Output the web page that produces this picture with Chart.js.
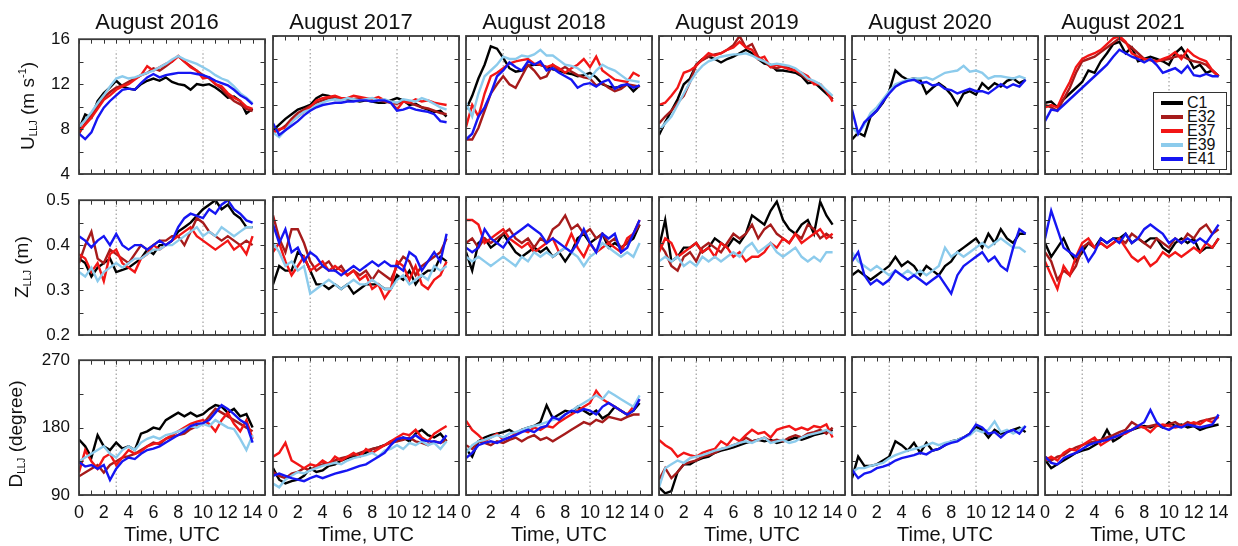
<!DOCTYPE html>
<html>
<head>
<meta charset="utf-8">
<script src="https://cdn.jsdelivr.net/npm/chart.js@4.4.1/dist/chart.umd.min.js"></script>
<style>
  html, body { margin: 0; padding: 0; background: #ffffff; }
  #fig { position: relative; width: 1238px; height: 546px; overflow: hidden;
         font-family: "Liberation Sans", Arial, Helvetica, sans-serif; color: #111; }
  #fig canvas { position: absolute; }
  .title { position: absolute; font-size: 22px; line-height: 22px; white-space: nowrap; transform: translateX(-50%); }
  .xlab  { position: absolute; font-size: 20px; line-height: 20px; white-space: nowrap; transform: translateX(-50%); }
  .ylab  { position: absolute; font-size: 19px; line-height: 19px; white-space: nowrap;
           transform: translate(-50%, -50%) rotate(-90deg); }
  .ylab sub { font-size: 10px; vertical-align: -3px; }
  .ylab sup { font-size: 11px; vertical-align: 8px; }
  #legend { position: absolute; left: 1153px; top: 92px; width: 72px; height: 73px;
            border: 1.5px solid #333; background: #fff; z-index: 10; padding-top: 2.5px; box-sizing: content-box; }
  #legend .row { height: 14px; line-height: 14px; font-size: 16px; position: relative; white-space: nowrap; }
  #legend .sw { position: absolute; left: 7px; top: 5.5px; width: 22px; height: 3.5px; }
  #legend .tx { position: absolute; left: 33px; top: 0; }
</style>
</head>
<body>
<div id="fig"></div>
<script>
// Hours after 00 UTC at which every series is sampled
const hours = [0,0.5,1,1.5,2,2.5,3,3.5,4,4.5,5,5.5,6,6.5,7,7.5,8,8.5,9,9.5,10,10.5,11,11.5,12,12.5,13,13.5,14];

const years = ['2016','2017','2018','2019','2020','2021'];
const stations = ['C1','E32','E37','E39','E41'];
const stationColors = ['#000000','#a61b1b','#f21616','#8ccbec','#1616f2'];

// ---- LLJ core speed (m s-1) ----
const U_2016_C1  = [8.0,9.3,9.0,10.5,11.2,11.7,12.3,11.8,11.6,11.5,12.0,12.3,12.5,12.3,12.6,12.2,12.0,11.9,11.5,12.0,11.9,12.0,11.7,11.3,10.8,10.9,10.5,9.4,9.8];
const U_2016_E32 = [7.6,8.5,9.2,10.0,10.8,11.3,11.7,11.9,12.2,12.5,12.8,13.0,13.4,13.2,13.6,14.0,14.5,14.0,13.6,13.2,12.8,12.5,12.0,11.6,11.0,10.5,10.2,9.8,9.6];
const U_2016_E37 = [7.8,8.4,9.0,9.8,10.6,11.0,11.5,11.8,12.0,12.4,12.8,13.6,13.2,13.5,13.8,14.0,14.5,14.0,13.5,13.2,12.5,12.6,12.0,11.8,11.2,10.8,10.5,10.0,9.8];
const U_2016_E39 = [8.2,8.8,9.5,10.3,11.0,11.8,12.5,12.7,12.5,12.6,12.8,13.0,13.2,13.5,13.8,14.2,14.5,14.2,14.0,13.8,13.5,13.2,12.8,12.5,12.3,11.8,11.2,10.8,10.3];
const U_2016_E41 = [7.6,7.1,7.7,9.0,9.9,10.5,11.0,11.5,11.6,11.5,12.1,12.6,12.9,12.6,12.8,12.9,13.0,13.0,13.0,12.9,12.8,12.6,12.3,12.1,11.9,11.5,11.0,10.7,10.2];

const U_2017_C1  = [7.8,8.3,8.8,9.2,9.6,9.8,10.0,10.6,10.9,10.8,10.5,10.6,10.5,10.4,10.3,10.4,10.3,10.2,10.2,10.4,10.6,10.4,10.0,10.1,9.8,9.6,9.4,9.5,9.0];
const U_2017_E32 = [7.7,7.8,8.2,8.8,9.3,9.6,9.9,10.2,10.4,10.6,10.7,10.5,10.6,10.5,10.6,10.4,10.5,10.4,10.3,10.2,10.1,10.3,10.2,10.0,9.8,9.7,9.5,9.3,9.2];
const U_2017_E37 = [7.6,7.9,8.0,8.6,9.0,9.4,9.8,10.4,10.6,10.7,10.8,10.6,10.6,10.8,10.7,10.6,10.5,10.7,10.4,10.3,9.6,10.3,10.2,10.5,10.3,10.4,10.2,10.1,10.0];
const U_2017_E39 = [7.6,7.2,7.8,8.5,9.0,9.4,9.6,10.0,10.2,10.4,10.5,10.4,10.6,10.5,10.4,10.5,10.6,10.4,10.5,10.3,10.2,10.5,10.4,10.3,10.6,10.4,10.1,9.8,9.6];
const U_2017_E41 = [8.4,7.4,7.8,8.2,8.6,9.1,9.5,9.8,10.0,10.1,10.2,10.2,10.3,10.3,10.4,10.4,10.3,10.4,10.4,10.2,9.5,9.6,9.8,9.6,9.5,9.4,9.2,8.6,8.5];

const U_2018_C1  = [9.6,10.8,12.3,13.5,15.1,14.9,14.1,13.2,12.9,13.0,13.4,13.5,13.5,13.3,13.1,13.0,12.8,12.7,12.5,12.6,12.8,12.4,11.8,11.6,11.5,11.6,11.8,11.2,11.7];
const U_2018_E32 = [7.0,7.0,8.0,9.5,11.0,11.8,12.5,11.8,11.5,12.5,13.5,13.0,12.3,12.5,13.5,13.0,13.3,12.9,12.6,12.4,12.3,11.7,11.9,11.5,11.2,11.4,11.8,11.7,11.6];
const U_2018_E37 = [8.1,10.0,9.0,11.0,12.5,12.8,13.2,13.6,13.8,13.9,14.0,13.6,13.5,13.3,13.5,13.2,12.8,13.2,13.5,14.0,13.3,14.2,13.0,12.6,12.2,12.1,12.0,12.8,12.5];
const U_2018_E39 = [10.2,9.0,11.0,12.5,13.0,13.5,14.2,14.0,14.0,14.3,14.2,14.4,14.8,14.3,14.3,13.9,13.5,13.4,13.2,12.8,12.3,13.0,13.5,13.2,13.0,12.6,12.2,12.1,12.0];
const U_2018_E41 = [7.0,7.5,9.0,9.8,11.0,12.5,13.0,13.7,13.3,13.0,13.8,13.5,13.8,13.0,13.2,12.8,12.5,12.2,11.5,11.8,11.9,11.6,12.0,12.2,11.4,11.7,11.8,11.5,11.7];

const U_2019_C1  = [7.4,8.5,9.5,10.5,11.8,12.3,13.5,14.0,14.2,14.0,13.7,14.0,14.2,14.5,14.8,14.5,14.0,13.6,13.5,13.0,13.0,12.9,12.8,12.5,11.9,12.0,11.5,11.0,10.5];
const U_2019_E32 = [8.4,9.0,9.5,10.2,10.8,12.0,13.5,13.9,14.2,14.4,14.5,14.8,15.2,16.0,15.0,15.3,14.2,13.8,13.3,13.2,13.4,13.2,13.0,12.6,12.2,12.0,11.8,11.2,10.5];
const U_2019_E37 = [10.0,10.2,10.8,11.5,12.8,13.0,13.4,14.0,14.5,14.3,14.5,14.8,15.0,15.5,15.0,14.8,14.0,14.2,13.3,13.5,13.3,13.1,13.0,12.8,12.5,11.8,11.8,11.2,10.3];
const U_2019_E39 = [7.8,8.4,9.0,10.0,11.0,12.0,12.8,13.4,13.8,14.0,14.2,14.3,14.4,14.4,14.5,14.3,14.0,13.8,13.5,13.6,13.5,13.4,13.2,12.8,12.3,12.1,11.8,11.3,10.8];

const U_2020_C1  = [7.0,7.6,7.3,9.0,9.5,10.2,11.2,13.0,12.5,12.2,12.3,12.2,11.0,11.5,11.9,11.5,10.9,10.0,11.0,11.2,10.9,11.9,11.4,11.9,11.6,12.1,12.3,11.9,12.2];
const U_2020_E39 = [8.1,7.5,8.3,9.3,9.8,10.5,11.2,11.8,12.0,12.2,12.3,12.3,12.4,12.2,12.5,12.8,12.9,13.0,13.4,12.9,13.0,12.8,12.3,12.5,12.5,12.4,12.3,12.5,12.3];
const U_2020_E41 = [9.6,7.5,8.5,9.0,9.5,10.3,11.0,11.6,11.9,12.1,12.2,11.9,12.0,11.7,11.8,11.4,11.3,11.0,11.2,11.4,11.2,11.2,11.0,11.4,11.8,11.5,11.8,11.6,12.2];

const U_2021_C1  = [10.2,10.3,9.8,10.5,11.0,11.5,12.0,13.0,12.8,13.8,14.5,15.3,15.5,14.5,15.0,13.8,14.0,14.2,14.0,13.8,13.5,14.5,15.0,14.2,13.2,13.5,12.8,13.0,12.5];
const U_2021_E32 = [10.0,9.8,9.5,10.5,11.5,12.8,13.8,14.0,14.2,14.6,15.0,15.4,15.8,15.4,15.0,14.5,14.0,13.9,13.8,13.9,14.0,14.2,14.3,14.0,13.8,13.7,13.5,13.0,12.5];
const U_2021_E37 = [9.8,10.0,9.8,11.0,12.0,13.3,14.0,14.3,14.5,14.8,15.3,15.8,16.0,15.5,14.5,14.2,14.0,13.9,13.8,14.0,14.2,14.6,14.0,14.8,14.3,14.0,13.8,13.0,12.5];
const U_2021_E41 = [8.6,9.6,9.5,10.0,10.5,11.0,11.5,12.0,12.5,13.0,13.5,14.2,14.8,14.5,14.2,14.0,13.7,14.0,13.5,12.8,13.0,13.2,12.8,13.4,12.6,12.5,12.7,12.5,12.5];

// ---- LLJ core height (m) ----
const Z_2016_C1  = [0.37,0.36,0.33,0.35,0.36,0.37,0.34,0.345,0.35,0.36,0.37,0.39,0.38,0.40,0.40,0.41,0.43,0.44,0.45,0.465,0.48,0.49,0.50,0.48,0.49,0.47,0.46,0.44,0.44];
const Z_2016_E32 = [0.36,0.40,0.43,0.37,0.36,0.39,0.38,0.37,0.36,0.38,0.40,0.39,0.40,0.41,0.41,0.42,0.42,0.40,0.43,0.46,0.45,0.43,0.42,0.41,0.42,0.41,0.40,0.41,0.40];
const Z_2016_E37 = [0.38,0.37,0.34,0.36,0.32,0.38,0.39,0.36,0.35,0.34,0.37,0.38,0.40,0.39,0.40,0.41,0.42,0.43,0.44,0.42,0.41,0.40,0.39,0.40,0.41,0.39,0.40,0.38,0.42];
const Z_2016_E39 = [0.34,0.33,0.35,0.32,0.34,0.35,0.36,0.35,0.36,0.37,0.37,0.38,0.39,0.39,0.40,0.40,0.41,0.42,0.43,0.44,0.42,0.43,0.42,0.44,0.43,0.42,0.43,0.44,0.44];
const Z_2016_E41 = [0.42,0.41,0.395,0.41,0.42,0.40,0.425,0.40,0.39,0.40,0.40,0.39,0.40,0.41,0.40,0.41,0.44,0.46,0.47,0.465,0.46,0.48,0.47,0.49,0.50,0.48,0.47,0.455,0.45];

const Z_2017_C1  = [0.31,0.35,0.34,0.34,0.38,0.37,0.34,0.31,0.31,0.30,0.31,0.30,0.31,0.29,0.30,0.31,0.31,0.31,0.30,0.30,0.33,0.32,0.34,0.31,0.33,0.34,0.34,0.37,0.36];
const Z_2017_E32 = [0.46,0.41,0.38,0.43,0.43,0.40,0.36,0.34,0.35,0.36,0.34,0.35,0.33,0.34,0.33,0.34,0.32,0.34,0.33,0.32,0.35,0.37,0.36,0.33,0.35,0.36,0.37,0.38,0.41];
const Z_2017_E37 = [0.38,0.40,0.36,0.33,0.35,0.37,0.34,0.35,0.36,0.34,0.35,0.34,0.33,0.34,0.32,0.33,0.30,0.31,0.28,0.30,0.36,0.35,0.32,0.35,0.31,0.30,0.32,0.33,0.36];
const Z_2017_E39 = [0.40,0.38,0.35,0.36,0.34,0.35,0.29,0.30,0.31,0.32,0.31,0.30,0.31,0.32,0.31,0.31,0.32,0.31,0.30,0.30,0.32,0.33,0.31,0.32,0.33,0.32,0.35,0.34,0.35];
const Z_2017_E41 = [0.44,0.40,0.43,0.38,0.39,0.36,0.38,0.37,0.35,0.34,0.34,0.33,0.34,0.35,0.34,0.35,0.36,0.35,0.36,0.35,0.35,0.34,0.38,0.37,0.34,0.36,0.38,0.36,0.42];

const Z_2018_C1  = [0.38,0.34,0.40,0.41,0.39,0.40,0.42,0.40,0.38,0.37,0.38,0.39,0.38,0.39,0.37,0.38,0.36,0.38,0.41,0.42,0.40,0.41,0.42,0.39,0.40,0.39,0.40,0.41,0.44];
const Z_2018_E32 = [0.40,0.41,0.39,0.41,0.40,0.41,0.42,0.43,0.41,0.40,0.41,0.39,0.41,0.40,0.43,0.44,0.46,0.43,0.44,0.42,0.43,0.41,0.42,0.40,0.41,0.39,0.40,0.42,0.44];
const Z_2018_E37 = [0.45,0.45,0.44,0.40,0.41,0.42,0.43,0.41,0.40,0.39,0.40,0.38,0.39,0.40,0.41,0.38,0.39,0.42,0.39,0.37,0.40,0.38,0.39,0.40,0.39,0.38,0.41,0.42,0.45];
const Z_2018_E39 = [0.37,0.36,0.37,0.36,0.35,0.36,0.37,0.36,0.35,0.37,0.36,0.38,0.37,0.38,0.37,0.38,0.39,0.38,0.37,0.35,0.37,0.38,0.40,0.39,0.38,0.37,0.38,0.37,0.40];
const Z_2018_E41 = [0.39,0.38,0.39,0.43,0.41,0.40,0.39,0.41,0.42,0.43,0.44,0.43,0.42,0.40,0.41,0.40,0.39,0.38,0.40,0.43,0.40,0.38,0.42,0.41,0.42,0.38,0.39,0.42,0.45];

const Z_2019_C1  = [0.39,0.45,0.36,0.37,0.39,0.39,0.40,0.38,0.39,0.41,0.40,0.39,0.41,0.40,0.42,0.46,0.45,0.44,0.47,0.49,0.45,0.43,0.42,0.44,0.45,0.42,0.49,0.46,0.44];
const Z_2019_E32 = [0.40,0.38,0.35,0.34,0.37,0.38,0.36,0.39,0.40,0.39,0.38,0.40,0.42,0.41,0.42,0.44,0.41,0.43,0.44,0.42,0.41,0.40,0.42,0.41,0.44,0.43,0.41,0.42,0.41];
const Z_2019_E37 = [0.38,0.41,0.40,0.37,0.38,0.39,0.40,0.38,0.39,0.37,0.40,0.39,0.37,0.38,0.36,0.37,0.37,0.38,0.40,0.39,0.41,0.40,0.42,0.40,0.41,0.42,0.43,0.41,0.42];
const Z_2019_E39 = [0.36,0.37,0.36,0.37,0.35,0.36,0.35,0.37,0.36,0.37,0.36,0.37,0.38,0.37,0.39,0.40,0.38,0.39,0.40,0.38,0.37,0.38,0.39,0.37,0.36,0.37,0.36,0.38,0.38];

const Z_2020_C1  = [0.33,0.34,0.33,0.32,0.33,0.34,0.35,0.37,0.35,0.36,0.35,0.33,0.35,0.34,0.33,0.35,0.36,0.38,0.39,0.40,0.41,0.39,0.42,0.40,0.43,0.41,0.40,0.42,0.42];
const Z_2020_E39 = [0.38,0.36,0.35,0.34,0.35,0.34,0.33,0.34,0.33,0.34,0.33,0.34,0.33,0.34,0.35,0.39,0.37,0.38,0.37,0.38,0.39,0.40,0.39,0.40,0.41,0.40,0.39,0.39,0.38];
const Z_2020_E41 = [0.36,0.38,0.33,0.31,0.32,0.31,0.32,0.34,0.33,0.32,0.33,0.32,0.31,0.32,0.33,0.31,0.29,0.33,0.35,0.36,0.37,0.38,0.36,0.37,0.35,0.34,0.39,0.43,0.42];

const Z_2021_C1  = [0.40,0.37,0.39,0.41,0.38,0.36,0.38,0.40,0.39,0.41,0.40,0.41,0.41,0.42,0.40,0.41,0.40,0.41,0.41,0.39,0.38,0.40,0.41,0.40,0.41,0.38,0.39,0.39,0.41];
const Z_2021_E32 = [0.38,0.36,0.32,0.34,0.33,0.35,0.39,0.40,0.39,0.40,0.39,0.40,0.41,0.40,0.42,0.41,0.40,0.39,0.41,0.40,0.39,0.41,0.40,0.42,0.41,0.43,0.44,0.42,0.43];
const Z_2021_E37 = [0.36,0.33,0.30,0.35,0.33,0.37,0.40,0.41,0.39,0.40,0.39,0.40,0.41,0.39,0.37,0.36,0.37,0.35,0.36,0.38,0.37,0.38,0.37,0.38,0.39,0.38,0.40,0.39,0.41];
const Z_2021_E41 = [0.41,0.47,0.43,0.39,0.38,0.37,0.39,0.36,0.38,0.41,0.40,0.41,0.40,0.42,0.40,0.41,0.43,0.44,0.43,0.42,0.40,0.41,0.40,0.41,0.40,0.41,0.40,0.42,0.44];

// ---- LLJ wind direction (degree) ----
const D_2016_C1  = [164,155,140,170,155,150,160,152,155,150,172,175,180,178,190,195,200,195,200,195,198,205,210,208,200,205,195,198,180];
const D_2016_E32 = [115,120,125,130,120,130,135,140,142,145,150,155,160,158,165,168,170,172,178,182,185,195,205,200,195,190,185,180,175];
const D_2016_E37 = [120,150,135,125,140,145,130,140,150,145,148,155,158,160,165,170,175,180,185,188,190,185,175,190,200,185,175,190,165];
const D_2016_E39 = [135,140,145,150,155,145,140,150,155,150,160,165,168,165,170,172,175,178,182,180,185,182,190,185,180,178,165,150,170];
const D_2016_E41 = [134,128,130,125,130,110,125,135,140,138,145,150,152,155,160,165,170,175,182,185,186,190,200,210,205,198,190,185,160];

const D_2017_C1  = [125,110,105,108,110,115,125,120,122,128,130,135,138,140,142,145,150,152,155,160,162,165,160,170,175,168,165,170,160];
const D_2017_E32 = [120,115,112,118,120,125,122,128,130,132,135,138,140,142,145,148,150,152,155,158,160,162,165,160,158,155,160,158,162];
const D_2017_E37 = [140,145,158,135,130,125,130,128,135,130,140,135,140,145,140,150,145,150,155,160,165,170,168,175,165,160,170,175,180];
const D_2017_E39 = [105,100,110,115,120,118,122,125,128,130,132,130,135,138,140,142,145,140,148,150,155,150,158,155,160,155,158,150,160];
const D_2017_E41 = [115,118,115,112,110,108,112,115,112,115,118,120,122,125,128,130,135,140,145,155,163,165,163,168,162,160,160,158,168];

const D_2018_C1  = [150,140,160,165,168,170,172,175,170,175,178,180,185,207,190,195,200,198,205,200,195,200,190,195,205,200,195,200,210];
const D_2018_E32 = [155,150,160,158,155,160,158,162,165,160,165,168,162,165,160,165,170,175,180,185,182,188,185,192,190,188,192,195,195];
const D_2018_E37 = [187,175,168,160,165,170,162,165,170,175,172,178,175,180,178,185,190,195,200,205,210,226,215,210,205,200,195,205,215];
const D_2018_E39 = [145,155,160,162,165,168,165,170,172,175,178,180,182,185,188,190,195,200,205,210,215,220,215,225,220,215,210,205,220];
const D_2018_E41 = [138,145,155,158,160,158,162,165,168,172,175,172,178,180,192,188,195,200,198,202,200,195,205,210,205,200,195,200,215];

const D_2019_C1  = [100,92,95,120,130,130,135,138,140,145,148,150,152,155,158,160,162,160,162,158,160,162,165,162,165,168,170,172,175];
const D_2019_E32 = [110,125,112,120,130,133,135,140,142,145,150,152,155,158,165,160,162,165,160,162,160,165,168,165,170,172,175,170,178];
const D_2019_E37 = [162,155,150,140,145,142,140,145,148,150,160,155,165,160,168,175,170,172,165,175,178,180,175,178,175,180,178,182,165];
const D_2019_E39 = [100,125,130,135,132,138,140,142,145,148,150,152,155,158,160,158,162,165,158,160,162,158,160,165,168,170,172,175,170];

const D_2020_C1  = [112,140,128,128,130,135,140,160,155,148,158,145,158,148,150,155,160,162,165,170,179,175,165,175,170,172,175,178,172];
const D_2020_E39 = [120,125,125,128,130,132,138,142,145,148,150,152,155,158,155,158,160,162,165,168,175,172,175,186,172,175,170,175,180];
const D_2020_E41 = [123,112,118,120,125,127,130,135,138,140,142,145,143,148,150,155,158,160,165,170,182,178,170,172,165,172,175,170,180];

const D_2021_C1  = [136,125,130,135,140,145,148,150,155,160,175,160,165,172,175,178,180,178,182,178,185,180,182,178,180,175,178,180,182];
const D_2021_E32 = [140,135,140,142,148,152,155,158,160,162,165,168,172,175,185,180,178,180,182,180,182,185,180,185,182,186,188,190,192];
const D_2021_E37 = [135,140,135,145,150,148,155,160,165,155,160,165,168,170,175,180,178,172,180,182,180,178,180,182,185,182,188,185,192];
const D_2021_E41 = [140,132,130,138,142,145,150,155,158,160,162,165,168,172,175,180,185,201,185,178,175,180,178,182,180,178,180,182,195];

// Reference times (UTC) marked with dotted verticals, and their vertical extent per variable
const markHours = [3, 10];
const markSpan = { U: [5, 15], Z: [0.2, 0.5], D: [90, 270] };

// Axis settings per variable
const rowVars = ['U', 'Z', 'D'];
const yMin = { U: 4, Z: 0.2, D: 90 };
const yMax = { U: 16, Z: 0.5, D: 270 };
const yTickStep = { U: 2, Z: 0.05, D: 45 };
const yLabelStep = { U: 4, Z: 0.1, D: 90 };

const SERIES = {
  U: {
    '2016': { C1: U_2016_C1, E32: U_2016_E32, E37: U_2016_E37, E39: U_2016_E39, E41: U_2016_E41 },
    '2017': { C1: U_2017_C1, E32: U_2017_E32, E37: U_2017_E37, E39: U_2017_E39, E41: U_2017_E41 },
    '2018': { C1: U_2018_C1, E32: U_2018_E32, E37: U_2018_E37, E39: U_2018_E39, E41: U_2018_E41 },
    '2019': { C1: U_2019_C1, E32: U_2019_E32, E37: U_2019_E37, E39: U_2019_E39 },
    '2020': { C1: U_2020_C1, E39: U_2020_E39, E41: U_2020_E41 },
    '2021': { C1: U_2021_C1, E32: U_2021_E32, E37: U_2021_E37, E41: U_2021_E41 }
  },
  Z: {
    '2016': { C1: Z_2016_C1, E32: Z_2016_E32, E37: Z_2016_E37, E39: Z_2016_E39, E41: Z_2016_E41 },
    '2017': { C1: Z_2017_C1, E32: Z_2017_E32, E37: Z_2017_E37, E39: Z_2017_E39, E41: Z_2017_E41 },
    '2018': { C1: Z_2018_C1, E32: Z_2018_E32, E37: Z_2018_E37, E39: Z_2018_E39, E41: Z_2018_E41 },
    '2019': { C1: Z_2019_C1, E32: Z_2019_E32, E37: Z_2019_E37, E39: Z_2019_E39 },
    '2020': { C1: Z_2020_C1, E39: Z_2020_E39, E41: Z_2020_E41 },
    '2021': { C1: Z_2021_C1, E32: Z_2021_E32, E37: Z_2021_E37, E41: Z_2021_E41 }
  },
  D: {
    '2016': { C1: D_2016_C1, E32: D_2016_E32, E37: D_2016_E37, E39: D_2016_E39, E41: D_2016_E41 },
    '2017': { C1: D_2017_C1, E32: D_2017_E32, E37: D_2017_E37, E39: D_2017_E39, E41: D_2017_E41 },
    '2018': { C1: D_2018_C1, E32: D_2018_E32, E37: D_2018_E37, E39: D_2018_E39, E41: D_2018_E41 },
    '2019': { C1: D_2019_C1, E32: D_2019_E32, E37: D_2019_E37, E39: D_2019_E39 },
    '2020': { C1: D_2020_C1, E39: D_2020_E39, E41: D_2020_E41 },
    '2021': { C1: D_2021_C1, E32: D_2021_E32, E37: D_2021_E37, E41: D_2021_E41 }
  }
};

// Page geometry of the plot boxes
const colLeft = [79, 273, 466, 659, 852, 1045];
const rowTop = [36, 197, 357];
const PW = 186, PH = 138;
const ML = 74, MT = 16, MR = 16, MB = 52;
const FONT = '"Liberation Sans", Arial, Helvetica, sans-serif';

// Box outline plus inward tick marks on all four sides
const boxTicks = {
  id: 'boxTicks',
  afterDatasetsDraw(chart) {
    const { ctx, chartArea: a, scales: { x, y } } = chart;
    const L = 4.5;
    ctx.save();
    ctx.strokeStyle = '#333';
    ctx.lineWidth = 1;
    ctx.beginPath();
    x.ticks.forEach(t => {
      const px = Math.round(x.getPixelForValue(t.value)) + 0.5;
      ctx.moveTo(px, a.bottom); ctx.lineTo(px, a.bottom - L);
      ctx.moveTo(px, a.top); ctx.lineTo(px, a.top + L);
    });
    y.ticks.forEach(t => {
      const py = Math.round(y.getPixelForValue(t.value)) + 0.5;
      ctx.moveTo(a.left, py); ctx.lineTo(a.left + L, py);
      ctx.moveTo(a.right, py); ctx.lineTo(a.right - L, py);
    });
    ctx.stroke();
    ctx.lineWidth = 1.8;
    ctx.strokeStyle = '#3a3a3a';
    ctx.strokeRect(a.left, a.top, a.right - a.left, a.bottom - a.top);
    ctx.restore();
  }
};

const fig = document.getElementById('fig');

function addDiv(cls, html, left, top) {
  const d = document.createElement('div');
  d.className = cls;
  d.innerHTML = html;
  d.style.left = left + 'px';
  d.style.top = top + 'px';
  fig.appendChild(d);
  return d;
}

rowVars.forEach((v, r) => {
  years.forEach((yr, c) => {
    const W = ML + PW + MR, H = MT + PH + MB;
    const cv = document.createElement('canvas');
    cv.width = W; cv.height = H;
    cv.style.width = W + 'px'; cv.style.height = H + 'px';
    cv.style.left = (colLeft[c] - ML) + 'px';
    cv.style.top = (rowTop[r] - MT) + 'px';
    fig.appendChild(cv);

    const datasets = [];
    markHours.forEach(h => {
      datasets.push({
        data: [{ x: h, y: markSpan[v][0] }, { x: h, y: markSpan[v][1] }],
        borderColor: '#8c8c8c', borderWidth: 1, borderDash: [1.5, 2.5],
        pointRadius: 0, order: 20
      });
    });
    stations.forEach((s, k) => {
      const vals = SERIES[v][yr][s];
      if (!vals) return;
      datasets.push({
        label: s,
        data: hours.map((h, i) => ({ x: h, y: vals[i] })),
        borderColor: stationColors[k], borderWidth: 2.4,
        pointRadius: 0, tension: 0, order: 10 - k
      });
    });

    new Chart(cv, {
      type: 'line',
      data: { datasets },
      plugins: [boxTicks],
      options: {
        responsive: false, animation: false, devicePixelRatio: 1, events: [],
        layout: { padding: { left: 0, top: MT, right: MR, bottom: 0 } },
        plugins: { legend: { display: false }, tooltip: { enabled: false }, title: { display: false } },
        scales: {
          x: {
            type: 'linear', min: 0, max: 15,
            afterFit: s => { s.height = MB; },
            grid: { display: false, drawTicks: false }, border: { display: false },
            ticks: {
              display: r === 2, stepSize: 1, autoSkip: false, maxRotation: 0, padding: 7,
              color: '#111', font: { family: FONT, size: 18 },
              callback: val => (val % 2 === 0 && val < 15) ? String(val) : ''
            }
          },
          y: {
            type: 'linear', min: yMin[v], max: yMax[v],
            afterFit: s => { s.width = ML; },
            grid: { display: false, drawTicks: false }, border: { display: false },
            ticks: {
              display: c === 0, stepSize: yTickStep[v], autoSkip: false, padding: 9,
              color: '#111', font: { family: FONT, size: 17 },
              callback: val => {
                const q = val / yLabelStep[v];
                if (Math.abs(q - Math.round(q)) > 1e-6) return '';
                return v === 'Z' ? val.toFixed(1) : String(Math.round(val));
              }
            }
          }
        }
      }
    });

    if (r === 0) addDiv('title', 'August ' + yr, colLeft[c] + PW / 2 - 15, 11);
    if (r === 2) addDiv('xlab', 'Time, UTC', colLeft[c] + PW / 2, 524);
  });
});

// Row axis titles
addDiv('ylab', 'U<sub>LLJ</sub> (m s<sup>-1</sup>)', 28, 106);
addDiv('ylab', 'Z<sub>LLJ</sub> (m)', 24, 267);
addDiv('ylab', 'D<sub>LLJ</sub> (degree)', 18, 434);

// Station legend inside the last panel of the first row
const lg = document.createElement('div');
lg.id = 'legend';
stations.forEach((s, k) => {
  const row = document.createElement('div');
  row.className = 'row';
  row.innerHTML = '<span class="sw" style="background:' + stationColors[k] + '"></span><span class="tx">' + s + '</span>';
  lg.appendChild(row);
});
fig.appendChild(lg);
</script>
</body>
</html>
